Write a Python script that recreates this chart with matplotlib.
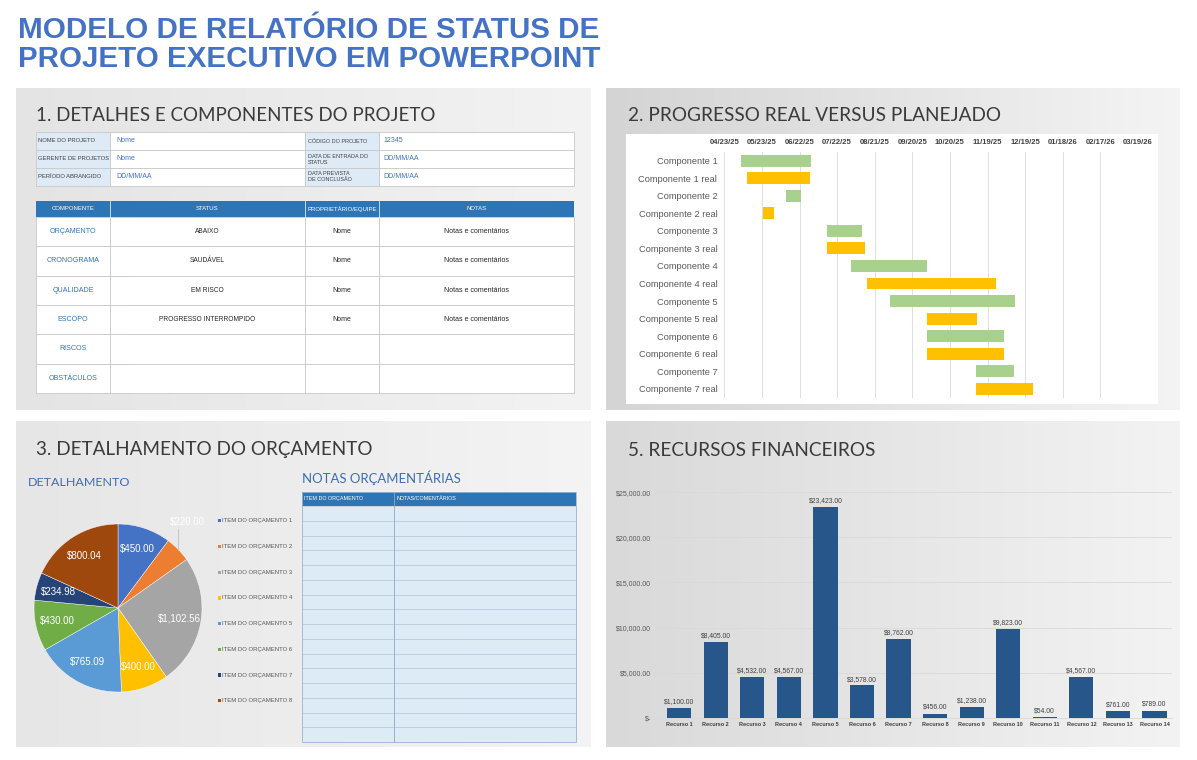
import numpy as np
import matplotlib
matplotlib.use("Agg")
import matplotlib.pyplot as plt
from matplotlib.patches import Rectangle
import matplotlib.dates as mdates
from matplotlib.ticker import FuncFormatter
from datetime import date, timedelta

plt.rcParams['font.family'] = ['Liberation Sans', 'DejaVu Sans']

# ------------------------------------------------------------------ data
title_lines = ["MODELO DE RELATÓRIO DE STATUS DE", "PROJETO EXECUTIVO EM POWERPOINT"]
section_titles = ["1. DETALHES E COMPONENTES DO PROJETO",
                  "2. PROGRESSO REAL VERSUS PLANEJADO",
                  "3. DETALHAMENTO DO ORÇAMENTO",
                  "5. RECURSOS FINANCEIROS"]

info_left_labels = ["NOME DO PROJETO", "GERENTE DE PROJETOS", "PERÍODO ABRANGIDO"]
info_left_values = ["Nome", "Nome", "DD/MM/AA"]
info_right_labels = ["CÓDIGO DO PROJETO", "DATA DE ENTRADA DO\nSTATUS", "DATA PREVISTA\nDE CONCLUSÃO"]
info_right_values = ["12345", "DD/MM/AA", "DD/MM/AA"]

comp_headers = ["COMPONENTE", "STATUS", "PROPRIETÁRIO/EQUIPE", "NOTAS"]
comp_names = ["ORÇAMENTO", "CRONOGRAMA", "QUALIDADE", "ESCOPO", "RISCOS", "OBSTÁCULOS"]
comp_status = ["ABAIXO", "SAUDÁVEL", "EM RISCO", "PROGRESSO INTERROMPIDO", "", ""]
comp_owner = ["Nome", "Nome", "Nome", "Nome", "", ""]
comp_notes = ["Notas e comentários", "Notas e comentários", "Notas e comentários",
              "Notas e comentários", "", ""]

gantt_tasks = ["Componente 1", "Componente 1 real", "Componente 2", "Componente 2 real",
               "Componente 3", "Componente 3 real", "Componente 4", "Componente 4 real",
               "Componente 5", "Componente 5 real", "Componente 6", "Componente 6 real",
               "Componente 7", "Componente 7 real"]
gantt_start = ["2025-05-06", "2025-05-11", "2025-06-11", "2025-05-24",
               "2025-07-14", "2025-07-14", "2025-08-02", "2025-08-15",
               "2025-09-02", "2025-10-02", "2025-10-02", "2025-10-02",
               "2025-11-10", "2025-11-10"]
gantt_days = [56, 50, 12, 9, 28, 30, 61, 103, 100, 40, 61, 61, 30, 45]
gantt_kind = ["plan", "real"] * 7
gantt_axis_start = "2025-04-23"
gantt_axis_days = 330
gantt_tick_step = 30

pie_labels = ["ITEM DO ORÇAMENTO 1", "ITEM DO ORÇAMENTO 2", "ITEM DO ORÇAMENTO 3",
              "ITEM DO ORÇAMENTO 4", "ITEM DO ORÇAMENTO 5", "ITEM DO ORÇAMENTO 6",
              "ITEM DO ORÇAMENTO 7", "ITEM DO ORÇAMENTO 8"]
pie_values = [450.00, 220.00, 1102.56, 400.00, 765.09, 430.00, 234.98, 800.04]
pie_colors = ['#4472C4', '#ED7D31', '#A5A5A5', '#FFC000',
              '#5B9BD5', '#70AD47', '#264478', '#9E480E']

notes_headers = ["ITEM DO ORÇAMENTO", "NOTAS/COMENTÁRIOS"]
notes_rows = 16

res_labels = ["Recurso 1", "Recurso 2", "Recurso 3", "Recurso 4", "Recurso 5",
              "Recurso 6", "Recurso 7", "Recurso 8", "Recurso 9", "Recurso 10",
              "Recurso 11", "Recurso 12", "Recurso 13", "Recurso 14"]
res_values = [1100, 8405, 4532, 4567, 23423, 3578, 8762, 456, 1238, 9823, 54, 4567, 761, 789]

# ------------------------------------------------------------------ figure
W, H = 1197, 760
fig = plt.figure(figsize=(W / 100, H / 100), dpi=100)
fig.patch.set_facecolor('white')

bg = fig.add_axes([0, 0, 1, 1])
bg.set_xlim(0, W)
bg.set_ylim(H, 0)
bg.axis('off')


def px_axes(x0, y0, x1, y1):
    return fig.add_axes([x0 / W, 1 - y1 / H, (x1 - x0) / W, (y1 - y0) / H])


def hexrgb(c):
    c = c.lstrip('#')
    return np.array([int(c[i:i + 2], 16) / 255 for i in (0, 2, 4)])


def panel(x0, y0, x1, y1, cl, cr):
    t = np.linspace(0, 1, 256)[None, :, None]
    arr = hexrgb(cl)[None, None, :] * (1 - t) + hexrgb(cr)[None, None, :] * t
    bg.imshow(arr, extent=[x0, x1, y1, y0], aspect='auto', zorder=0,
              interpolation='bilinear')


renderer = fig.canvas.get_renderer()


def fit(t, width):
    bb = t.get_window_extent(renderer)
    t.set_fontsize(t.get_fontsize() * width / bb.width)


# panels
panel(16, 88, 591, 410, '#e4e4e4', '#f3f3f3')
panel(606, 88, 1180, 410, '#d4d4d4', '#f4f4f4')
panel(16, 421, 591, 747, '#e6e6e6', '#f4f4f4')
panel(606, 421, 1180, 747, '#d9d9d9', '#f3f3f3')
bg.set_xlim(0, W)
bg.set_ylim(H, 0)

# main title
TBLUE = '#4472C4'
for txt, yb, wd in zip(title_lines, [38, 67], [581, 583]):
    t = bg.text(18, yb, txt, fontsize=21, fontweight='bold', color=TBLUE,
                va='baseline', ha='left', family=['Liberation Sans', 'DejaVu Sans'])
    fit(t, wd)

# section titles
sec_pos = [(36, 121, 398), (628, 120.7, 374), (36, 455, 336), (628, 455.7, 246)]
for txt, (x, y, wd) in zip(section_titles, sec_pos):
    t = bg.text(x, y, txt, fontsize=14, color='#3b3b3b', va='baseline', ha='left',
                family=['Lato', 'DejaVu Sans'], fontweight='normal')
    fit(t, wd)

# ------------------------------------------------------------------ section 1 tables
LB = '#DEEAF6'
cols = [36, 110, 305, 379, 574]
rows_y = [132, 150, 167.5, 185.5]
for i in range(3):
    y0, y1 = rows_y[i], rows_y[i + 1]
    for j in range(4):
        fc = LB if j in (0, 2) else 'white'
        bg.add_patch(Rectangle((cols[j], y0), cols[j + 1] - cols[j], y1 - y0,
                               facecolor=fc, edgecolor='#c8c8c8', lw=0.6, zorder=2))
    ym = (y0 + y1) / 2
    bg.text(cols[0] + 2.5, ym, info_left_labels[i], fontsize=4.2, color='#404040',
            va='center', ha='left', zorder=3)
    bg.text(cols[1] + 6, ym, info_left_values[i], fontsize=5, color=TBLUE,
            va='center', ha='left', zorder=3)
    bg.text(cols[2] + 2.5, ym + 0.3, info_right_labels[i], fontsize=4.0, color='#404040',
            va='center', ha='left', zorder=3, linespacing=1.25)
    bg.text(cols[3] + 4, ym, info_right_values[i], fontsize=5, color=TBLUE,
            va='center', ha='left', zorder=3)

HB = '#2E75B6'
bg.add_patch(Rectangle((cols[0], 201), cols[4] - cols[0], 16, facecolor=HB,
                       edgecolor='none', zorder=2))
for j in range(4):
    if j > 0:
        bg.plot([cols[j], cols[j]], [201, 217], color='white', lw=0.5, zorder=3)
    bg.text((cols[j] + cols[j + 1]) / 2, 209, comp_headers[j], fontsize=4.3,
            color='white', ha='center', va='center', zorder=3)
row_h = (393 - 217) / 6
for i in range(6):
    y0 = 217 + i * row_h
    for j in range(4):
        bg.add_patch(Rectangle((cols[j], y0), cols[j + 1] - cols[j], row_h,
                               facecolor='white', edgecolor='#c8c8c8', lw=0.6, zorder=2))
    ym = y0 + row_h / 2
    bg.text((cols[0] + cols[1]) / 2, ym, comp_names[i], fontsize=5.1, color=HB,
            ha='center', va='center', zorder=3)
    bg.text((cols[1] + cols[2]) / 2, ym, comp_status[i], fontsize=4.8, color='#262626',
            ha='center', va='center', zorder=3)
    bg.text((cols[2] + cols[3]) / 2, ym, comp_owner[i], fontsize=5, color='#262626',
            ha='center', va='center', zorder=3)
    bg.text((cols[3] + cols[4]) / 2, ym, comp_notes[i], fontsize=5, color='#262626',
            ha='center', va='center', zorder=3)

# ------------------------------------------------------------------ section 2 gantt
bg.add_patch(Rectangle((626, 134), 532, 270, facecolor='white', edgecolor='none', zorder=1))
axg = px_axes(724.3, 152, 1137.9, 397.5)
axg.patch.set_alpha(0)
base = date.fromisoformat(gantt_axis_start)
starts = [mdates.date2num(date.fromisoformat(s)) for s in gantt_start]
kind_color = {'plan': '#A9D18E', 'real': '#FFC000'}
axg.barh(range(len(gantt_tasks)), gantt_days, left=starts, height=0.68,
         color=[kind_color[k] for k in gantt_kind], zorder=3)
x0n = mdates.date2num(base)
axg.set_xlim(x0n, x0n + gantt_axis_days)
axg.set_ylim(len(gantt_tasks) - 0.5, -0.5)
ticks = [mdates.date2num(base + timedelta(days=gantt_tick_step * k))
         for k in range(gantt_axis_days // gantt_tick_step + 1)]
axg.set_xticks(ticks)
axg.xaxis.set_major_formatter(mdates.DateFormatter('%m/%d/%y'))
axg.xaxis.tick_top()
axg.tick_params(axis='x', length=0, labelsize=5.5, pad=4, colors='#404040')
for lb in axg.get_xticklabels():
    lb.set_fontweight('bold')
axg.set_yticks(range(len(gantt_tasks)))
axg.set_yticklabels(gantt_tasks)
axg.tick_params(axis='y', length=0, labelsize=6.7, pad=5, colors='#595959')
axg.grid(axis='x', color='#d9d9d9', lw=0.6)
axg.set_axisbelow(True)
for s in axg.spines.values():
    s.set_visible(False)

# ------------------------------------------------------------------ section 3 pie
t = bg.text(28, 483, "DETALHAMENTO", fontsize=10, color='#3A6DB5', va='center',
            ha='left', family=['Lato', 'DejaVu Sans'])
fit(t, 102)
t = bg.text(302, 477.5, "NOTAS ORÇAMENTÁRIAS", fontsize=10, color='#3A6DB5',
            va='center', ha='left', family=['Lato', 'DejaVu Sans'])
fit(t, 157)

axp = px_axes(34, 524, 202, 692)
total = sum(pie_values)
wedges, texts, autotexts = axp.pie(
    pie_values, colors=pie_colors, startangle=90, counterclock=False,
    autopct=lambda p: "${:,.2f}".format(p * total / 100), pctdistance=0.74,
    wedgeprops=dict(edgecolor='white', linewidth=0.3),
    textprops=dict(color='white', fontsize=7))
axp.set_xlim(-1, 1)
axp.set_ylim(-1, 1)
autotexts[1].set_position((0.82, 1.02))
autotexts[1].set_color('white')
axp.plot([0.714, 0.714], [0.69, 0.94], color='#bfbfbf', lw=0.6, clip_on=False)
for a in autotexts:
    a.set_clip_on(False)

leg_y = [520.7, 546.7, 572.3, 598, 623.7, 649.3, 675, 700.7]
for lab, col, y in zip(pie_labels, pie_colors, leg_y):
    bg.add_patch(Rectangle((218, y - 1.6), 3.2, 3.2, facecolor=col, edgecolor='none', zorder=3))
    bg.text(222.5, y, lab, fontsize=4.3, color='#595959', va='center', ha='left', zorder=3)

# notes table
nx0, nx1, ncol = 302, 575.5, 394.3
bg.add_patch(Rectangle((nx0, 491.7), nx1 - nx0, 14.3, facecolor=HB, edgecolor='none', zorder=2))
bg.text(nx0 + 1.5, 498.9, notes_headers[0], fontsize=3.9, color='white', va='center',
        ha='left', zorder=3)
bg.text(ncol + 2, 498.9, notes_headers[1], fontsize=3.9, color='white', va='center',
        ha='left', zorder=3)
nr_h = (742 - 506) / notes_rows
for i in range(notes_rows):
    y0 = 506 + i * nr_h
    bg.add_patch(Rectangle((nx0, y0), nx1 - nx0, nr_h, facecolor='#DDEBF7',
                           edgecolor='#b8c9dc', lw=0.5, zorder=2))
bg.plot([ncol, ncol], [491.7, 742], color='#8fa9c6', lw=0.6, zorder=3)
bg.add_patch(Rectangle((nx0, 491.7), nx1 - nx0, 742 - 491.7, facecolor='none',
                       edgecolor='#9DB7D5', lw=0.6, zorder=3))

# ------------------------------------------------------------------ section 4 bars
axb = px_axes(655.6, 492.3, 1172, 717.7)
axb.patch.set_alpha(0)
xs = np.arange(len(res_values))
bars = axb.bar(xs, res_values, width=0.665, color='#27568A', zorder=3)
axb.bar_label(bars, labels=["${:,.2f}".format(v) for v in res_values], fontsize=4.9,
              color='#404040', padding=2)
axb.set_xlim(-0.646, 13.48)
axb.set_ylim(0, 25000)
axb.set_yticks(np.arange(0, 25001, 5000))
axb.yaxis.set_major_formatter(FuncFormatter(lambda v, p: "$-" if v == 0 else "${:,.2f}".format(v)))
axb.tick_params(axis='y', length=0, labelsize=5, pad=3, colors='#595959')
axb.set_xticks(xs)
axb.set_xticklabels(res_labels)
axb.tick_params(axis='x', length=0, labelsize=4, pad=3, colors='#404040')
for lb in axb.get_xticklabels():
    lb.set_fontweight('bold')
axb.grid(axis='y', color='#d9d9d9', lw=0.6)
axb.set_axisbelow(True)
for k, s in axb.spines.items():
    s.set_visible(k == 'bottom')
axb.spines['bottom'].set_color('#d9d9d9')
axb.spines['bottom'].set_linewidth(0.6)

fig.savefig('out.png', dpi=100, facecolor='white')
